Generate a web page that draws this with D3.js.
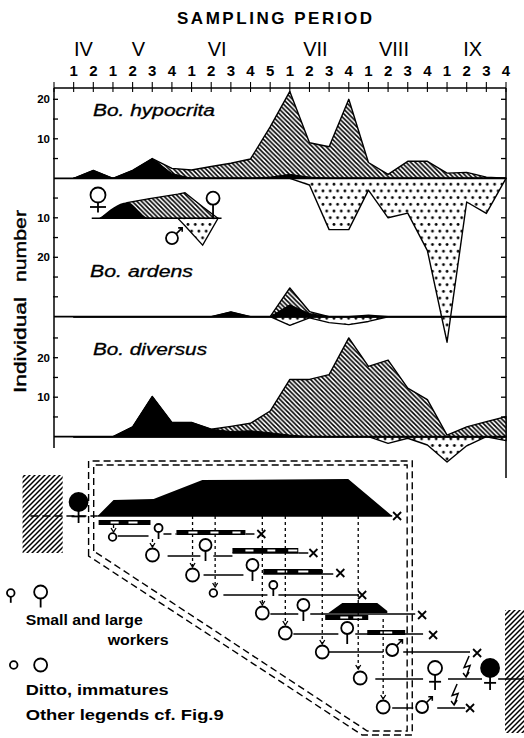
<!DOCTYPE html>
<html><head><meta charset="utf-8">
<script src="https://cdn.jsdelivr.net/npm/d3@7"></script>
<style>body{margin:0;background:#fff}svg{display:block}</style>
</head><body>
<svg id="c" width="524" height="738"></svg>
<script>
// ---------- data ----------
const sampleTicks = ["1","2","1","2","3","4","1","2","3","4","5","1","2","3","4","1","2","3","4","1","2","3","4"];
const months = ["IV","V","VI","VII","VIII","IX"];
const monthFirst = [0,2,6,11,15,19];
const monthLen = [2,4,5,4,4,4];

const hypQueens  = [0,2,0,2,5,1.2,0,0,0,0,0.3,1,0.3,0,0,0,0,0,0,0,0,0,0];
const hypWorkers = [0,0,0,0,0,1.3,2.1,3,3.8,4.9,12.7,21,8.7,8,20,4,1,4.3,4.3,1.3,1.5,0.3,0];
const hypMales   = [0,0,0,0,0,0,0,0,0,0,0,0,1.7,13,13,3,10,8.8,18.3,41.5,6,8.9,0];

const ardQueens  = [0,0,0,0,0,0,0,0,1.2,0,0,3,0.8,0,0,0,0,0,0,0,0,0,0];
const ardWorkers = [0,0,0,0,0,0,0,0,0,0,0,4.3,0.5,0,0,0.4,0,0,0,0,0,0,0];
const ardMales   = [0,0,0,0,0,0,0,0,0,0,0,2.2,0.3,1.5,2,1.2,0,0,0,0,0,0,0];

const divQueens  = [0,0,0,2.5,10.2,3.6,3.6,1.9,1.3,1.5,1,0.4,0,0,0,0,0,0,0,0,0,0,0];
const divWorkers = [0,0,0,0,0,0,0,0,1.3,1.9,5.5,14.1,14.5,15.7,25,17.8,19.4,12.3,9.4,0.4,2.5,3.8,5.1];
const divMales   = [0,0,0,0,0,0,0,0,0,0,0,0,0,0,0,0,1.7,0.4,2.1,6.4,2.3,0,1];

const upTicks = [5,10,15,20];
const upLabels = [10,20];
const downTicks = [5,10,15,20,25,30];
const divTicks = [5,10,15,20,25];

// inset legend (mini profile)
const legX = [0,2.3,4.2,6.6,7.2,8.7,10];
const legQueens = [0,4,0,0,0,0,0];
const legWorkers = [0,0,5,6.1,6.5,2.9,0];
const legMales = [0,0,0,0,1.9,6.8,0];

// ---------- scales ----------
const svg = d3.select("#c");
const x = d3.scaleLinear().domain([-1,22]).range([54,506]);
const yA = d3.scaleLinear().domain([0,20]).range([178.3,99.3]);
const yAm = d3.scaleLinear().domain([0,30]).range([178.3,296.8]);
const yB = d3.scaleLinear().domain([0,10]).range([316.7,277.2]);
const yBm = d3.scaleLinear().domain([0,10]).range([316.7,356.2]);
const yC = d3.scaleLinear().domain([0,25]).range([436.7,337.95]);
const yCm = d3.scaleLinear().domain([0,10]).range([436.7,476.2]);
const lx = d3.scaleLinear().domain([0,10]).range([100,218]);
const ly = d3.scaleLinear().domain([0,10]).range([218.3,178.8]);

const FONT = "'Liberation Sans', Arial, sans-serif";

// ---------- patterns ----------
const defs = svg.append("defs");
function hatch(id, s, dir, w){
  const p = defs.append("pattern").attr("id",id).attr("patternUnits","userSpaceOnUse").attr("width",s).attr("height",s);
  p.append("rect").attr("width",s).attr("height",s).attr("fill","#fff");
  const d = dir === "\\" ?
    `M-1,-1L${s+1},${s+1}M-1,${s-1}L1,${s+1}M${s-1},-1L${s+1},1` :
    `M-1,1L1,-1M-1,${s+1}L${s+1},-1M${s-1},${s+1}L${s+1},${s-1}`;
  p.append("path").attr("d",d).attr("stroke","#000").attr("stroke-width",w);
}
hatch("hatchB", 4.6, "\\", 1.55);
hatch("hatchF", 5, "/", 1.5);
const dp = defs.append("pattern").attr("id","dots").attr("patternUnits","userSpaceOnUse").attr("width",7.3).attr("height",13.4);
dp.append("rect").attr("width",7.3).attr("height",13.4).attr("fill","#fff");
dp.append("circle").attr("cx",1.8).attr("cy",3.3).attr("r",1.4);
dp.append("circle").attr("cx",5.5).attr("cy",10).attr("r",1.4);

// ---------- title & top axis ----------
svg.append("text").attr("x",177).attr("y",24).attr("textLength",195).attr("lengthAdjust","spacing")
  .attr("font-family",FONT).attr("font-weight","bold").attr("font-size",17).text("SAMPLING  PERIOD");

months.forEach((m,i)=>{
  const c = monthFirst[i] + Math.min(1.3,(monthLen[i]-1)/2);
  svg.append("text").attr("x",x(c)).attr("y",56).attr("text-anchor","middle")
    .attr("font-family",FONT).attr("font-size",20).text(m);
});
sampleTicks.forEach((t,i)=>{
  svg.append("text").attr("x",x(i)).attr("y",76).attr("text-anchor","middle")
    .attr("font-family",FONT).attr("font-weight","bold").attr("font-size",15).text(t);
});
svg.append("line").attr("x1",x(-1)).attr("x2",x(22)).attr("y1",88).attr("y2",88).attr("stroke","#000").attr("stroke-width",1.6);
d3.range(-1,23).forEach(i=>{
  svg.append("line").attr("x1",x(i)).attr("x2",x(i)).attr("y1",82).attr("y2",92).attr("stroke","#000").attr("stroke-width",1.1);
});
// frame sides
svg.append("line").attr("x1",x(-1)).attr("x2",x(-1)).attr("y1",88).attr("y2",448).attr("stroke","#000").attr("stroke-width",1.5);
svg.append("line").attr("x1",x(22)).attr("x2",x(22)).attr("y1",88).attr("y2",478).attr("stroke","#000").attr("stroke-width",1.5);

// ---------- panels ----------
function panel(q, w, m, yUp, yDn, base){
  const tot = q.map((v,i)=>v+w[i]);
  const idx = d3.range(q.length);
  const aUp = d3.area().x(i=>x(i)).y0(base).y1(i=>yUp(tot[i]));
  const aQ = d3.area().x(i=>x(i)).y0(base).y1(i=>yUp(q[i]));
  const aM = d3.area().x(i=>x(i)).y0(base).y1(i=>yDn(m[i]));
  svg.append("path").attr("d",aM(idx)).attr("fill","url(#dots)").attr("stroke","#000").attr("stroke-width",1.4).attr("stroke-linejoin","round");
  svg.append("path").attr("d",aUp(idx)).attr("fill","url(#hatchB)").attr("stroke","#000").attr("stroke-width",1.4).attr("stroke-linejoin","round");
  svg.append("path").attr("d",aQ(idx)).attr("fill","#000").attr("stroke","#000").attr("stroke-width",1);
}
panel(divQueens, divWorkers, divMales, yC, yCm, 436.7);
panel(ardQueens, ardWorkers, ardMales, yB, yBm, 316.7);
panel(hypQueens, hypWorkers, hypMales, yA, yAm, 178.3);

[178.3,316.7,436.7].forEach(b=>{
  svg.append("line").attr("x1",x(-1)).attr("x2",x(22)).attr("y1",b).attr("y2",b).attr("stroke","#000").attr("stroke-width",1.7);
});

// axis ticks
function ticks(scale, vals, labels){
  vals.forEach(v=>{
    const y = scale(v);
    svg.append("line").attr("x1",x(-1)-1).attr("x2",x(-1)+4).attr("y1",y).attr("y2",y).attr("stroke","#000").attr("stroke-width",1.3);
    svg.append("line").attr("x1",x(22)-5).attr("x2",x(22)).attr("y1",y).attr("y2",y).attr("stroke","#000").attr("stroke-width",1.3);
    if(labels.includes(v)) svg.append("text").attr("x",x(-1)-4).attr("y",y+4).attr("text-anchor","end")
      .attr("font-family",FONT).attr("font-weight","bold").attr("font-size",11.5).text(v);
  });
}
ticks(yA, upTicks, upLabels);
ticks(yAm, downTicks, upLabels);
ticks(yC, divTicks, upLabels);

// species names
[["Bo. hypocrita",93,116,122],["Bo. ardens",90,277,103],["Bo. diversus",93,355,114]].forEach(s=>{
  svg.append("text").attr("x",s[1]).attr("y",s[2]).attr("textLength",s[3]).attr("lengthAdjust","spacingAndGlyphs")
    .attr("font-family",FONT).attr("font-style","italic").attr("font-size",16).attr("stroke","#000").attr("stroke-width",0.3).text(s[0]);
});

// y axis title (two words, widely separated)
[["number",246,72],["Individual",345,96]].forEach(t=>{
  svg.append("text").attr("transform",`translate(26,${t[1]}) rotate(-90)`).attr("text-anchor","middle")
    .attr("textLength",t[2]).attr("lengthAdjust","spacingAndGlyphs")
    .attr("font-family",FONT).attr("font-size",17).attr("stroke","#000").attr("stroke-width",0.4).text(t[0]);
});

// ---------- symbols ----------
function worker(g,cx,cy,r,stem){
  g.append("circle").attr("cx",cx).attr("cy",cy).attr("r",r).attr("fill","#fff").attr("stroke","#000").attr("stroke-width",1.8);
  g.append("line").attr("x1",cx).attr("x2",cx).attr("y1",cy+r).attr("y2",cy+r+stem).attr("stroke","#000").attr("stroke-width",1.8);
}
function queen(g,cx,cy,r,filled,stem,bar){
  g.append("line").attr("x1",cx).attr("x2",cx).attr("y1",cy+r).attr("y2",cy+r+stem).attr("stroke","#000").attr("stroke-width",1.8);
  g.append("line").attr("x1",cx-bar).attr("x2",cx+bar).attr("y1",cy+r+stem*0.45).attr("y2",cy+r+stem*0.45).attr("stroke","#000").attr("stroke-width",1.8);
  g.append("circle").attr("cx",cx).attr("cy",cy).attr("r",r).attr("fill",filled?"#000":"#fff").attr("stroke","#000").attr("stroke-width",1.8);
}
function male(g,cx,cy,r){
  g.append("circle").attr("cx",cx).attr("cy",cy).attr("r",r).attr("fill","#fff").attr("stroke","#000").attr("stroke-width",1.8);
  const a=r*0.7, b=r*1.7;
  g.append("path").attr("d",`M${cx+a},${cy-a}L${cx+b},${cy-b}M${cx+b-4},${cy-b}L${cx+b},${cy-b}L${cx+b},${cy-b+4}`)
    .attr("fill","none").attr("stroke","#000").attr("stroke-width",1.6);
}
function xmark(g,cx,cy,s){
  g.append("path").attr("d",`M${cx-s},${cy-s}L${cx+s},${cy+s}M${cx-s},${cy+s}L${cx+s},${cy-s}`).attr("stroke","#000").attr("stroke-width",1.8);
}
function circ(g,cx,cy,r){
  g.append("circle").attr("cx",cx).attr("cy",cy).attr("r",r).attr("fill","#fff").attr("stroke","#000").attr("stroke-width",1.8);
}

// inset legend
const leg = svg.append("g");
const li = d3.range(legX.length);
const legTot = legQueens.map((v,i)=>v+legWorkers[i]);
leg.append("path").attr("d",d3.area().x(i=>lx(legX[i])).y0(ly(0)).y1(i=>ly(-legMales[i]))(li)).attr("fill","url(#dots)").attr("stroke","#000").attr("stroke-width",1.3);
leg.append("path").attr("d",d3.area().x(i=>lx(legX[i])).y0(ly(0)).y1(i=>ly(legTot[i]))(li)).attr("fill","url(#hatchB)").attr("stroke","#000").attr("stroke-width",1.3);
leg.append("path").attr("d",d3.area().x(i=>lx(legX[i])).y0(ly(0)).y1(i=>ly(legQueens[i])).curve(d3.curveMonotoneX)(li)).attr("fill","#000");
leg.append("line").attr("x1",lx(-0.7)).attr("x2",lx(10.3)).attr("y1",ly(0)).attr("y2",ly(0)).attr("stroke","#000").attr("stroke-width",1.5);
queen(leg, lx(-0.17), ly(5.9), 7.5, false, 10, 8);
worker(leg, lx(9.58), ly(5.1), 6.5, 13);
male(leg, lx(6.1), ly(-5), 6);

// ---------- life-cycle diagram ----------
const dx = x;                                  // time axis, sampling units
const dy = d3.scaleLinear().domain([0,220]).range([516,736]); // vertical offset from colony line

const boxOuter = [[0.76,40],[0.76,-55],[17.23,-55],[17.23,219],[14.68,219]];
const boxInner = [[1.02,35],[1.02,-51],[16.97,-51],[16.97,215],[14.94,215]];
const blackShapes = [
  [[1.22,0],[2.03,-16],[4.07,-17],[6.55,-36],[13.97,-37],[16.21,0]],
  [[12.96,97],[13.67,87],[15.45,87],[15.96,95],[15.96,97]]
];
const bars = [
  {x0:1.27,x1:3.91,y:4,w:[[1.88,2.29],[2.79,3.25]]},
  {x0:5.23,x1:8.74,y:14,w:[[5.84,6.3],[6.96,7.37],[8.08,8.49]]},
  {x0:8.08,x1:11.43,y:32,w:[[8.74,9.15],[9.86,10.26],[10.92,11.38]]},
  {x0:9.65,x1:12.65,y:53,w:[[10.37,10.87],[11.43,11.94]]},
  {x0:12.8,x1:14.99,y:99,w:[[13.57,13.97],[14.23,14.68]]},
  {x0:14.94,x1:16.87,y:114,w:[[15.6,16.21]]}
];
const hLines = [
  [2.24,3.81,20],[8.74,9.2,18],[4.78,6.45,40],[7.11,8.08,40],[8.08,11.43,37],[11.43,11.94,37],
  [6.61,8.64,59],[9.65,13.21,58],[7.62,9.86,79],[10.42,14.48,79],
  [10.01,11.43,98],[12.04,17.38,98],[11.18,13.47,118],[14.33,17.78,118],
  [12.96,15.75,136],[16.77,20.17,136],[15.35,17.78,163],[19.05,20.78,163],[21.6,22.92,163],
  [16.21,17.28,192],[18.5,19.92,192]
];
const dashLines = [[-2.2,1.22,0],[4.57,5.23,18]];
const vLines = [[2.03,9,16],[4.01,23,31],[6.05,0,51],[7.2,0,71],[9.6,0,89],[10.77,0,109],[12.65,0,128],[14.48,0,153],[15.75,103,183]];
const immSmall = [[1.98,21],[7.11,77]];
const immLarge = [[4.01,39],[6.05,59],[9.6,97],[10.77,117],[12.65,136],[14.58,162],[15.75,191]];
const wrkSmall = [[4.32,12],[10.16,69]];
const wrkLarge = [[6.71,29],[9.1,49],[11.69,89],[13.92,112]];
const males = [[16.21,134],[17.73,191]];
const xMarks = [[16.46,0],[9.55,18],[12.2,37],[13.57,57],[14.68,79],[17.73,99],[18.29,119],[20.53,137],[20.17,192]];
const bolts = [[20.02,140,161],[19.41,168,189]];

const dg = svg.append("g");
const line = d3.line().x(d=>dx(d[0])).y(d=>dy(d[1]));
// hatched walls
dg.append("rect").attr("x",dx(-2.6)).attr("y",dy(-41)).attr("width",dx(-0.56)-dx(-2.6)).attr("height",dy(37)-dy(-41)).attr("fill","url(#hatchF)");
dg.append("rect").attr("x",dx(21.95)).attr("y",dy(94)).attr("width",dx(22.92)-dx(21.95)).attr("height",dy(217)-dy(94)).attr("fill","url(#hatchF)");
// dashed box
[boxOuter, boxInner].forEach(b=>{
  dg.append("path").attr("d",line(b)+"Z").attr("fill","none").attr("stroke","#000").attr("stroke-width",1.4).attr("stroke-dasharray","7,4");
});
blackShapes.forEach(s=>dg.append("path").attr("d",line(s)+"Z").attr("fill","#000"));
hLines.forEach(l=>dg.append("line").attr("x1",dx(l[0])).attr("x2",dx(l[1])).attr("y1",dy(l[2])).attr("y2",dy(l[2])).attr("stroke","#000").attr("stroke-width",1.5));
dashLines.forEach(l=>dg.append("line").attr("x1",dx(l[0])).attr("x2",dx(l[1])).attr("y1",dy(l[2])).attr("y2",dy(l[2])).attr("stroke","#000").attr("stroke-width",1.5).attr("stroke-dasharray","8,4"));
dg.append("line").attr("x1",dx(1.22)).attr("x2",dx(16.21)).attr("y1",dy(0)).attr("y2",dy(0)).attr("stroke","#000").attr("stroke-width",1.5);
bars.forEach(b=>{
  dg.append("rect").attr("x",dx(b.x0)).attr("y",dy(b.y)).attr("width",dx(b.x1)-dx(b.x0)).attr("height",5).attr("fill","#000");
  b.w.forEach(w=>dg.append("rect").attr("x",dx(w[0])).attr("y",dy(b.y)+1.5).attr("width",dx(w[1])-dx(w[0])).attr("height",2).attr("fill","#fff"));
});
vLines.forEach(v=>{
  dg.append("line").attr("x1",dx(v[0])).attr("x2",dx(v[0])).attr("y1",dy(v[1])).attr("y2",dy(v[2])).attr("stroke","#000").attr("stroke-width",1.3).attr("stroke-dasharray","3,3");
  const ax=dx(v[0]), ay=dy(v[2]);
  dg.append("path").attr("d",`M${ax-2.5},${ay-4}L${ax},${ay}L${ax+2.5},${ay-4}`).attr("fill","none").attr("stroke","#000").attr("stroke-width",1.3);
});
immSmall.forEach(p=>circ(dg,dx(p[0]),dy(p[1]),3.8));
immLarge.forEach(p=>circ(dg,dx(p[0]),dy(p[1]),6.5));
wrkSmall.forEach(p=>worker(dg,dx(p[0]),dy(p[1]),4,7));
wrkLarge.forEach(p=>worker(dg,dx(p[0]),dy(p[1]),6,10));
males.forEach(p=>male(dg,dx(p[0]),dy(p[1]),6));
queen(dg, dx(18.39), dy(152), 7, false, 15, 6);
queen(dg, dx(21.19), dy(152), 9, true, 13, 6);
queen(dg, dx(0.25), dy(-14), 9, true, 12, 7);
xMarks.forEach(p=>xmark(dg,dx(p[0]),dy(p[1]),4));
bolts.forEach(b=>{
  const bx=dx(b[0]), y0=dy(b[1]), y1=dy(b[2]), m=(y0+y1)/2;
  dg.append("path").attr("d",`M${bx+2},${y0}L${bx-3},${m+1}L${bx+3},${m-1}L${bx-1},${y1}M${bx-4},${y1-4}L${bx-1},${y1}L${bx+2},${y1-5}`)
    .attr("fill","none").attr("stroke","#000").attr("stroke-width",1.5);
});

// bottom-left legend
worker(dg,dx(-3.2),dy(77),3.8,6);
worker(dg,dx(-1.68),dy(76),6.5,9);
circ(dg,dx(-3.05),dy(149),3.8);
circ(dg,dx(-1.68),dy(149),6.5);
[["Small and large",-2.44,109,117],["workers",1.73,129,61],["Ditto,  immatures",-2.44,179,143],["Other legends  cf. Fig.9",-2.44,204,198]].forEach(t=>{
  dg.append("text").attr("x",dx(t[1])).attr("y",dy(t[2])).attr("textLength",t[3]).attr("lengthAdjust","spacingAndGlyphs")
    .attr("font-family",FONT).attr("font-weight","bold").attr("font-size",14).text(t[0]);
});
</script>
</body></html>
